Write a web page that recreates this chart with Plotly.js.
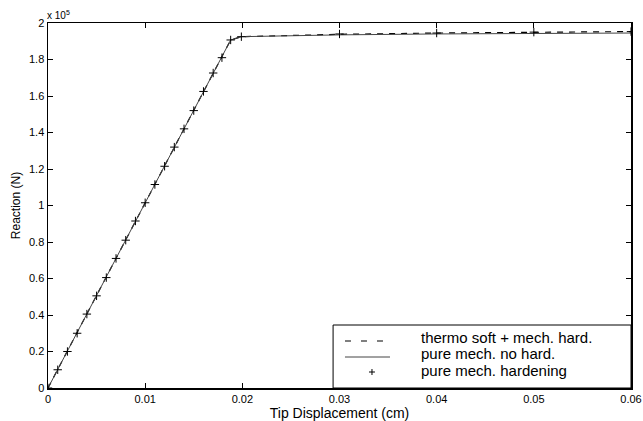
<!DOCTYPE html>
<html>
<head>
<meta charset="utf-8">
<script src="https://cdn.plot.ly/plotly-3.0.1.min.js"></script>
<style>html,body{margin:0;padding:0;background:#fff;}#chart{width:643px;height:421px;}</style>
</head>
<body>
<div id="chart"></div>
<script>
// Tip displacement (cm) and reaction (units of 1e5 N)
const thermoX = [0, 0.0188, 0.0199, 0.03, 0.04, 0.05, 0.06];
const thermoY = [0, 1.907, 1.925, 1.938, 1.945, 1.95, 1.953];

const noHardX = [0, 0.0188, 0.0199, 0.03, 0.04, 0.05, 0.06];
const noHardY = [0, 1.907, 1.925, 1.935, 1.94, 1.943, 1.945];

const hardX = [0, 0.001, 0.002, 0.003, 0.004, 0.005, 0.006, 0.007, 0.008, 0.009,
               0.010, 0.011, 0.012, 0.013, 0.014, 0.015, 0.016, 0.017, 0.0179, 0.0188,
               0.0199, 0.03, 0.04, 0.05, 0.06];
const hardY = [0, 0.10, 0.20, 0.30, 0.405, 0.505, 0.605, 0.71, 0.81, 0.915,
               1.015, 1.115, 1.215, 1.32, 1.42, 1.52, 1.625, 1.726, 1.81, 1.907,
               1.925, 1.94, 1.945, 1.95, 1.953];

const seriesNames = ['thermo soft + mech. hard.', 'pure mech. no hard.', 'pure mech. hardening'];

const FONT = 'Liberation Sans, Arial, sans-serif';

const traces = [
  {x: thermoX, y: thermoY, name: seriesNames[0], mode: 'lines',
   line: {color: '#000', width: 1.2, dash: '6px,6px'}},
  {x: noHardX, y: noHardY, name: seriesNames[1], mode: 'lines',
   line: {color: '#444', width: 1}},
  {x: hardX, y: hardY, name: seriesNames[2], mode: 'markers',
   marker: {symbol: 'cross-thin-open', size: 6, color: '#000', line: {color: '#000', width: 1}}}
];

const axisCommon = {
  showgrid: false, zeroline: false, showline: true, linecolor: '#000', linewidth: 1.5,
  mirror: 'ticks', ticks: 'inside', ticklen: 5, tickcolor: '#000', tickwidth: 1,
  tickfont: {family: FONT, size: 11, color: '#000'}
};

// legend box (drawn as shapes + annotations in paper coordinates)
const lgX0 = 0.489, lgX1 = 1.0, lgY0 = 0.0, lgY1 = 0.1726;
const rowText = [0.1370, 0.0932, 0.0493];
const rowSym = [0.1288, 0.0849, 0.0438];
const symX0 = 0.5094, symX1 = 0.5866, symXc = 0.5557, txtX = 0.638;

const shapes = [
  {type: 'rect', xref: 'paper', yref: 'paper', x0: lgX0, x1: lgX1, y0: lgY0, y1: lgY1,
   line: {color: '#000', width: 1}, fillcolor: '#fff', layer: 'above'},
  {type: 'line', xref: 'paper', yref: 'paper', x0: symX0, x1: symX1, y0: rowSym[0], y1: rowSym[0],
   line: {color: '#000', width: 1.2, dash: '6px,10px'}, layer: 'above'},
  {type: 'line', xref: 'paper', yref: 'paper', x0: symX0, x1: symX1, y0: rowSym[1], y1: rowSym[1],
   line: {color: '#444', width: 1}, layer: 'above'},
  {type: 'line', xref: 'paper', yref: 'paper', x0: symXc - 0.0051, x1: symXc + 0.0051, y0: rowSym[2], y1: rowSym[2],
   line: {color: '#000', width: 1}, layer: 'above'},
  {type: 'line', xref: 'paper', yref: 'paper', x0: symXc, x1: symXc, y0: rowSym[2] - 0.0082, y1: rowSym[2] + 0.0082,
   line: {color: '#000', width: 1}, layer: 'above'}
];

const annotations = [{
  xref: 'paper', yref: 'paper', x: 0, y: 1, xanchor: 'left', yanchor: 'bottom',
  xshift: -3, yshift: 0,
  text: 'x 10<sup>5</sup>', showarrow: false,
  font: {size: 10, family: FONT}
}];
seriesNames.forEach((n, i) => annotations.push({
  xref: 'paper', yref: 'paper', x: txtX, y: rowText[i], xanchor: 'left', yanchor: 'middle',
  text: n, showarrow: false, borderpad: 0, font: {size: 15, family: FONT, color: '#000'}
}));

const layout = {
  width: 643, height: 421,
  margin: {l: 48, r: 12, t: 23, b: 33},
  paper_bgcolor: '#fff', plot_bgcolor: '#fff',
  font: {family: FONT, color: '#000'},
  xaxis: Object.assign({}, axisCommon, {
    range: [0, 0.06], dtick: 0.01, tick0: 0,
    title: {text: 'Tip Displacement (cm)', font: {size: 14}, standoff: 0}
  }),
  yaxis: Object.assign({}, axisCommon, {
    range: [0, 2], dtick: 0.2, tick0: 0,
    title: {text: 'Reaction (N)', font: {size: 12}, standoff: 6}
  }),
  showlegend: false,
  shapes: shapes,
  annotations: annotations
};

Plotly.newPlot('chart', traces, layout, {staticPlot: true, displayModeBar: false});
</script>
</body>
</html>
